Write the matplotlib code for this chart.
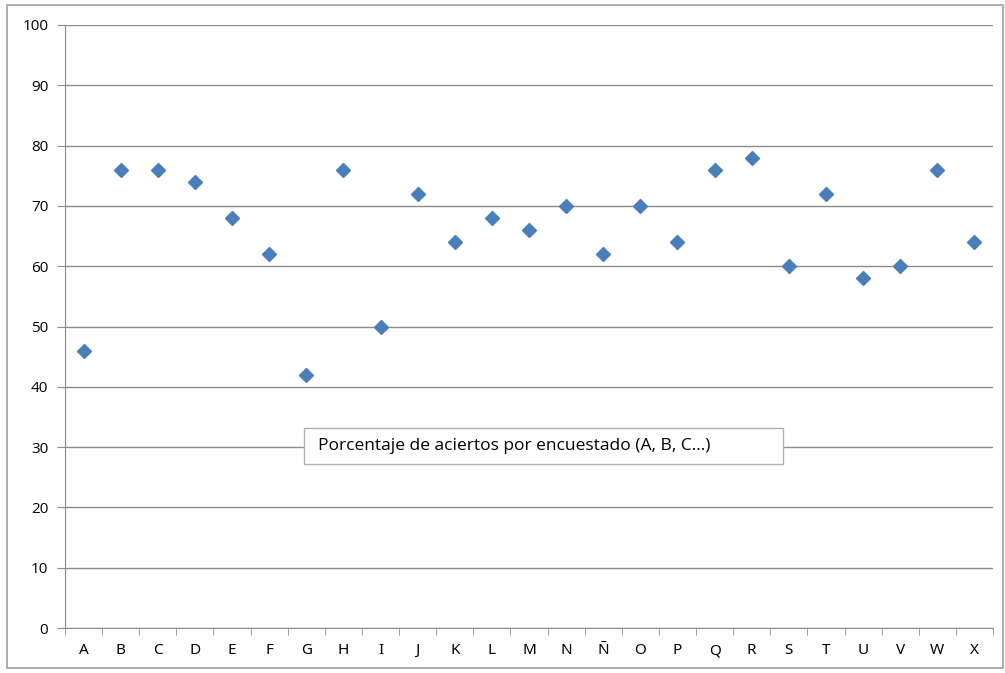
import matplotlib
matplotlib.use('Agg')
import matplotlib.pyplot as plt
from matplotlib.patches import Rectangle

plt.rcParams['font.family'] = ['Open Sans', 'DejaVu Sans']

# Encuestados y porcentaje de aciertos
encuestados = ['A', 'B', 'C', 'D', 'E', 'F', 'G', 'H', 'I', 'J', 'K', 'L', 'M',
               'N', 'Ñ', 'O', 'P', 'Q', 'R', 'S', 'T', 'U', 'V', 'W', 'X']
aciertos = [46, 76, 76, 74, 68, 62, 42, 76, 50, 72, 64, 68, 66,
            70, 62, 70, 64, 76, 78, 60, 72, 58, 60, 76, 64]
y_ticks = [0, 10, 20, 30, 40, 50, 60, 70, 80, 90, 100]

fig = plt.figure(figsize=(10.05, 6.73), dpi=100)
ax = fig.add_axes([65 / 1005, 1 - 628 / 673, (993 - 65) / 1005, (628 - 25) / 673])

# borde exterior del grafico
fig.patches.append(Rectangle((7 / 1005, 1 - 668 / 673), (1003 - 7) / 1005, (668 - 5) / 673,
                             transform=fig.transFigure, fill=False, edgecolor='#a0a0a0', lw=1.2))

x = list(range(len(encuestados)))
ax.plot(x, aciertos, linestyle='none', marker='D', markersize=7,
        color='#4a7ebb', markeredgecolor='#4a7ebb')

ax.set_xlim(-0.5, len(encuestados) - 0.5)
ax.set_ylim(0, 100)
ax.set_yticks(y_ticks)
ax.grid(axis='y', color='#8c8c8c', lw=1)
ax.set_axisbelow(True)

ax.set_xticks(x)
ax.set_xticklabels(encuestados, family=['Noto Sans', 'DejaVu Sans'])
ax.set_xticks([i - 0.5 for i in range(len(encuestados) + 1)], minor=True)
ax.tick_params(axis='x', which='major', length=0, pad=11, labelsize=11)
ax.tick_params(axis='x', which='minor', length=5, color='#8c8c8c')
ax.tick_params(axis='y', length=6, color='#8c8c8c', labelsize=11, pad=6)

for s in ['top', 'right']:
    ax.spines[s].set_visible(False)
for s in ['left', 'bottom']:
    ax.spines[s].set_color('#8c8c8c')

# cuadro de leyenda
ax.add_patch(Rectangle((0.2575, 0.272), 0.516, 0.0597, transform=ax.transAxes,
                       facecolor='white', edgecolor='#b0b0b0', lw=1, zorder=5))
ax.text(0.2726, 0.302, 'Porcentaje de aciertos por encuestado (A, B, C...)',
        transform=ax.transAxes, ha='left', va='center', fontsize=12.5, zorder=6)

plt.savefig('out.png', dpi=100)
plt.close()
